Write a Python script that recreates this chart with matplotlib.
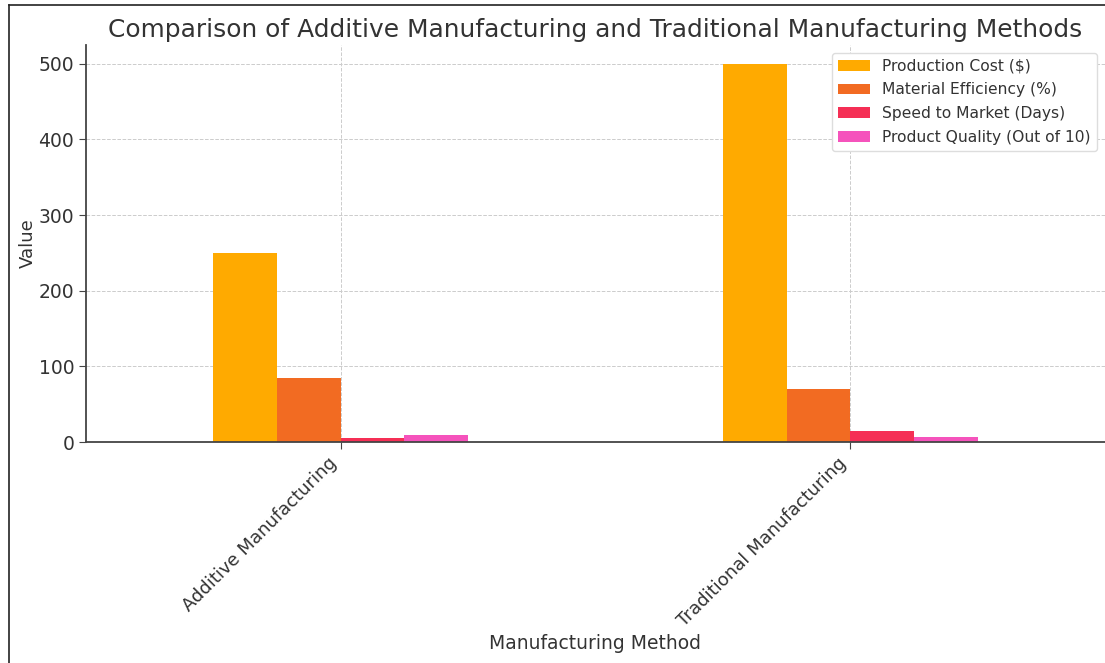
import numpy as np
import pandas as pd
import matplotlib
matplotlib.use('Agg')
import matplotlib.pyplot as plt
from matplotlib.lines import Line2D

methods = ['Additive Manufacturing', 'Traditional Manufacturing']
production_cost = [250, 500]
material_efficiency = [85, 70]
speed_to_market = [5, 14]
product_quality = [9, 7]
colors = ['#FFAA00', '#F26B22', '#F52F55', '#F553BC']

df = pd.DataFrame({'Production Cost ($)': production_cost,
                   'Material Efficiency (%)': material_efficiency,
                   'Speed to Market (Days)': speed_to_market,
                   'Product Quality (Out of 10)': product_quality},
                  index=methods)

plt.rcParams['text.color'] = '#333333'
plt.rcParams['axes.labelcolor'] = '#333333'
plt.rcParams['xtick.color'] = '#333333'
plt.rcParams['ytick.color'] = '#333333'

fig = plt.figure(figsize=(11.05, 6.63), dpi=100)
ax = fig.add_axes([0.0778, 0.3333, 0.9222, 0.599])
df.plot(kind='bar', ax=ax, color=colors, width=0.5)

ax.set_title('Comparison of Additive Manufacturing and Traditional Manufacturing Methods',
             fontsize=17.9, pad=6)
ax.set_xlabel('Manufacturing Method', fontsize=13.5, labelpad=3)
ax.set_ylabel('Value', fontsize=13, labelpad=1)
ax.tick_params(axis='both', labelsize=13.5, length=5, color='#444444')
ax.tick_params(axis='x', labelsize=13)
plt.setp(ax.get_xticklabels(), rotation=45, ha='right')
ax.grid(True, linestyle='--', color='#cccccc', linewidth=0.7)
ax.set_axisbelow(True)
for s in ['top', 'right']:
    ax.spines[s].set_visible(False)
for s in ['left', 'bottom']:
    ax.spines[s].set_color('#444444')
    ax.spines[s].set_linewidth(1.3)

ax.legend(loc='upper right', fontsize=11.2, framealpha=1, edgecolor='#dddddd',
          labelspacing=0.55, bbox_to_anchor=(0.9995, 1.0))

# thin frame around the picture (left and top edges)
fig.add_artist(Line2D([9 / 1105, 9 / 1105], [0, 1 - 5 / 663], transform=fig.transFigure,
                      color='#222222', linewidth=1.2))
fig.add_artist(Line2D([9 / 1105, 1], [1 - 5 / 663, 1 - 5 / 663], transform=fig.transFigure,
                      color='#222222', linewidth=1.2))

fig.savefig('out.png', dpi=100)
